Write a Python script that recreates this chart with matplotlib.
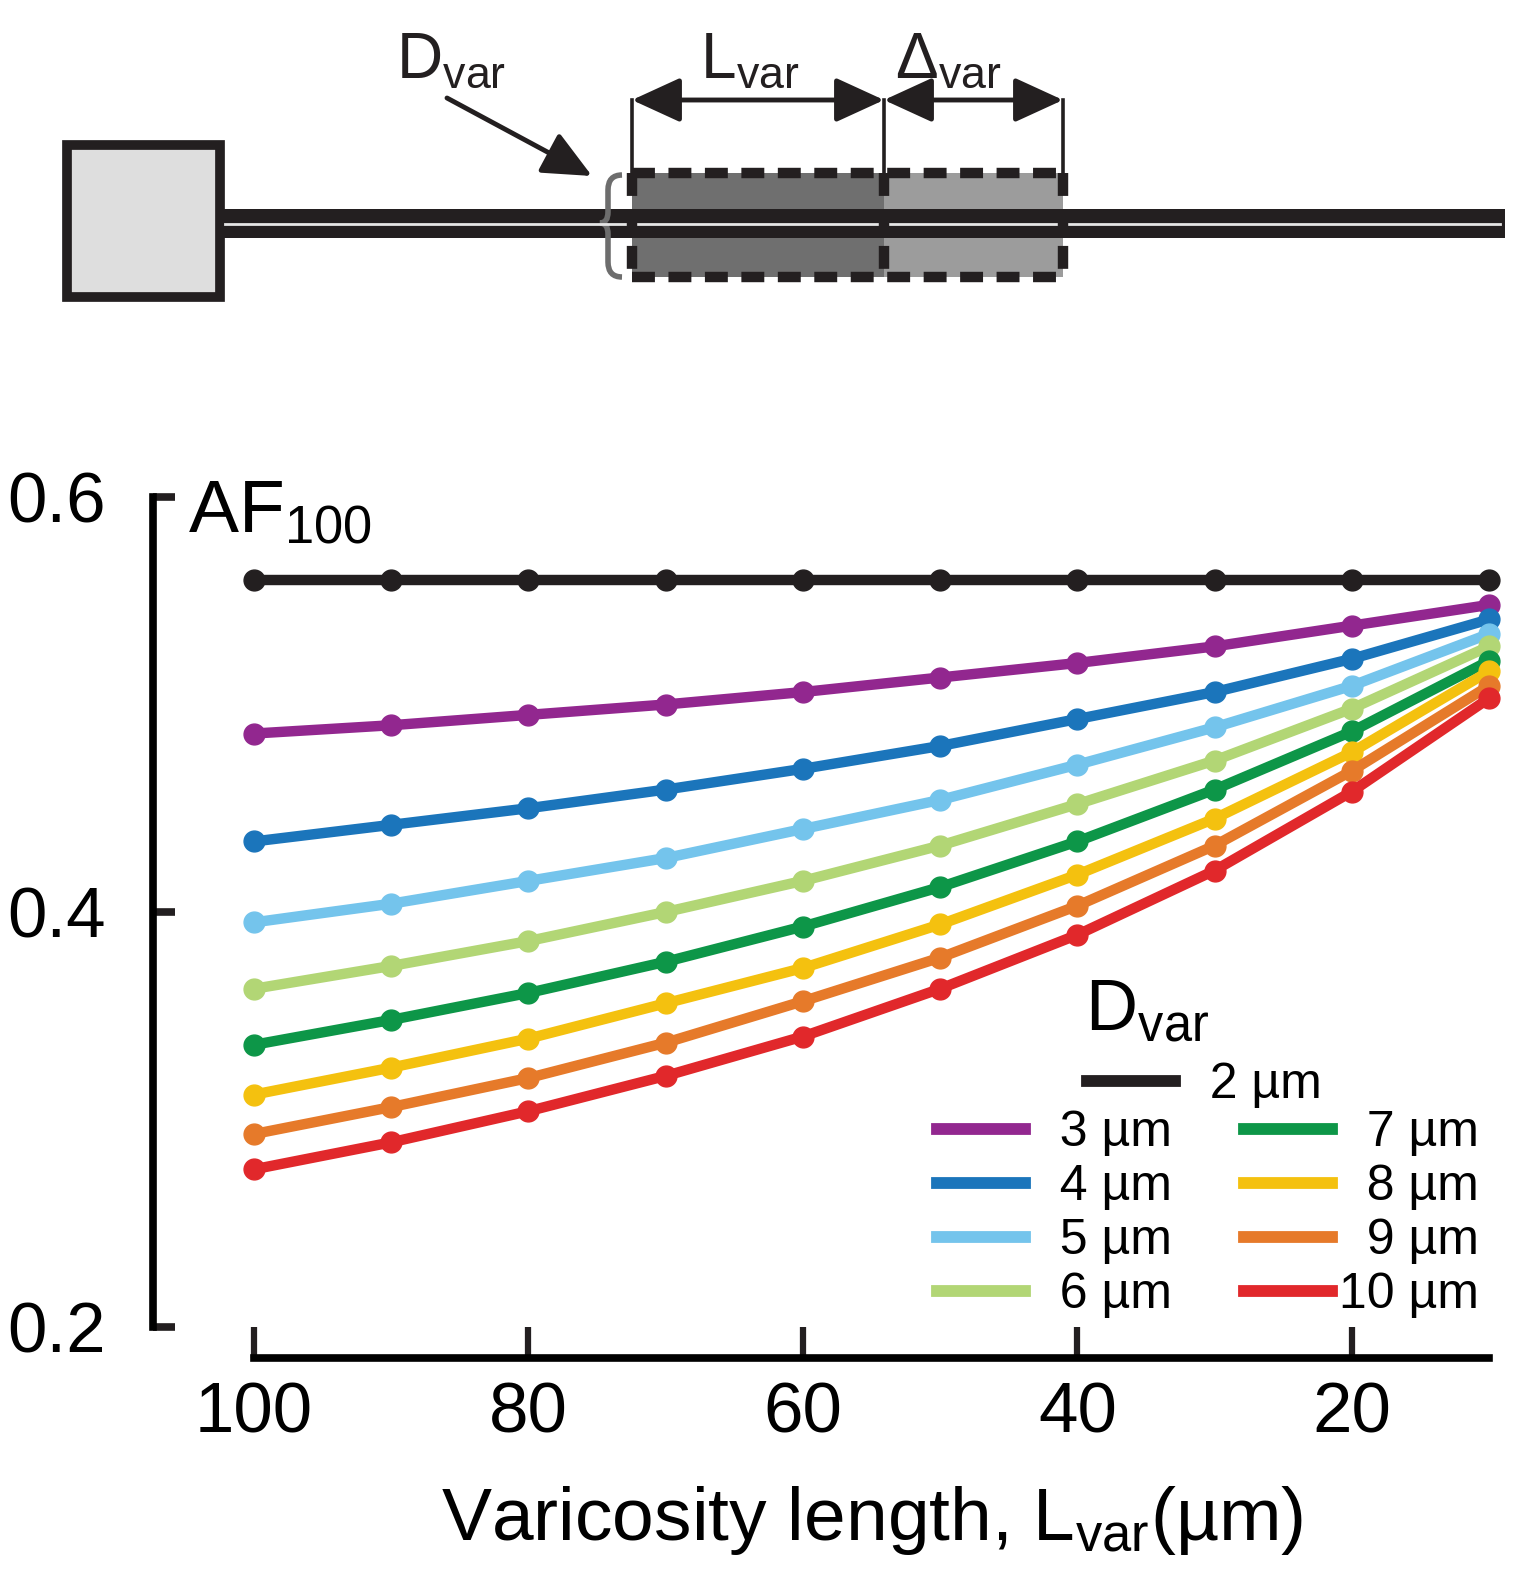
import matplotlib
matplotlib.use('Agg')
import matplotlib.pyplot as plt
from matplotlib.lines import Line2D
from matplotlib.patches import Rectangle, PathPatch
from matplotlib.path import Path

plt.rcParams['font.family'] = ['Liberation Sans', 'DejaVu Sans']
plt.rcParams['mathtext.default'] = 'regular'

W, H = 1528, 1583

# varicosity length (um) and AF100 per varicosity diameter
lengths = [100, 90, 80, 70, 60, 50, 40, 30, 20, 10]
af_d2 = [0.560, 0.560, 0.560, 0.560, 0.560, 0.560, 0.560, 0.560, 0.560, 0.560]
af_d3 = [0.486, 0.490, 0.495, 0.500, 0.506, 0.513, 0.520, 0.528, 0.538, 0.548]
af_d4 = [0.434, 0.442, 0.450, 0.459, 0.469, 0.480, 0.493, 0.506, 0.522, 0.541]
af_d5 = [0.395, 0.404, 0.415, 0.426, 0.440, 0.454, 0.471, 0.489, 0.509, 0.534]
af_d6 = [0.363, 0.374, 0.386, 0.400, 0.415, 0.432, 0.452, 0.473, 0.498, 0.528]
af_d7 = [0.336, 0.348, 0.361, 0.376, 0.393, 0.412, 0.434, 0.459, 0.487, 0.521]
af_d8 = [0.312, 0.325, 0.339, 0.356, 0.373, 0.394, 0.418, 0.445, 0.477, 0.516]
af_d9 = [0.293, 0.306, 0.320, 0.337, 0.357, 0.378, 0.403, 0.432, 0.468, 0.509]
af_d10 = [0.276, 0.289, 0.304, 0.321, 0.340, 0.363, 0.389, 0.420, 0.458, 0.503]

diam_labels = ['2 µm', '3 µm', '4 µm', '5 µm', '6 µm', '7 µm', '8 µm', '9 µm', '10 µm']
colors = ['#231f20', '#92278f', '#1b75bb', '#74c4ec', '#b2d675',
          '#0d9648', '#f4c10f', '#e67a2a', '#e1282b']
series = [af_d2, af_d3, af_d4, af_d5, af_d6, af_d7, af_d8, af_d9, af_d10]

fig = plt.figure(figsize=(W / 100, H / 100), dpi=100)

# ---- schematic (pixel coordinates) ----
dg = fig.add_axes([0, 1 - 320 / H, 1, 320 / H])
dg.set_xlim(0, W)
dg.set_ylim(320, 0)
dg.axis('off')
k = '#231f20'

dg.add_patch(Rectangle((67, 145), 153, 152, fc='#dedede', ec=k, lw=7))
dg.add_patch(Rectangle((632, 173), 252, 104, fc='#6f6f6f', ec='none'))
dg.add_patch(Rectangle((884, 173), 179, 104, fc='#9c9c9c', ec='none'))
dg.add_patch(Rectangle((220, 209), 1285, 29, fc=k, ec='none'))
dg.plot([225, 1500], [223.5, 223.5], color='#e6e6e6', lw=2)

for x0, x1, y0, y1 in [(632, 1063, 173, 173), (632, 1063, 277, 277),
                       (632, 632, 173, 277), (884, 884, 173, 277),
                       (1063, 1063, 173, 277)]:
    dg.plot([x0, x1], [y0, y1], color=k, lw=7.5, dashes=[2.2, 1.3])

for xv in [632, 884, 1063]:
    dg.plot([xv, xv], [100, 173], color=k, lw=2.6)

aprops = dict(arrowstyle='<|-|>,head_length=1.2,head_width=0.55', color=k,
              lw=3.5, shrinkA=0, shrinkB=0, mutation_scale=25)
dg.annotate('', xy=(632, 100), xytext=(884, 100), arrowprops=aprops)
dg.annotate('', xy=(884, 100), xytext=(1063, 100), arrowprops=aprops)
dg.annotate('', xy=(592, 176), xytext=(447, 98),
            arrowprops=dict(arrowstyle='-|>,head_length=1.2,head_width=0.55',
                            color=k, lw=3.5, shrinkA=0, shrinkB=0,
                            mutation_scale=25))

brace = Path([(622, 175), (608, 175), (608, 190), (608, 212), (608, 223),
              (600, 223), (608, 223), (608, 234), (608, 262), (608, 277),
              (622, 277)],
             [Path.MOVETO, Path.CURVE3, Path.CURVE3, Path.LINETO, Path.CURVE3,
              Path.CURVE3, Path.CURVE3, Path.CURVE3, Path.LINETO, Path.CURVE3,
              Path.CURVE3])
dg.add_patch(PathPatch(brace, fc='none', ec='#6d6d6d', lw=4))

dg.text(396, 78, r'D$_{var}$', fontsize=46, va='baseline', color=k)
dg.text(700, 78, r'L$_{var}$', fontsize=46, va='baseline', color=k)
dg.text(895, 78, r'Δ$_{var}$', fontsize=46, va='baseline', color=k)

# ---- main chart ----
ax = fig.add_axes([254 / W, (H - 1327) / H, (1489 - 254) / W, (1327 - 497) / H])
for vals, c in zip(series, colors):
    ax.plot(lengths, vals, color=c, lw=7.5, marker='o', ms=15, clip_on=False)

ax.set_xlim(100, 10)
ax.set_ylim(0.2, 0.6)
ax.spines['top'].set_visible(False)
ax.spines['right'].set_visible(False)
ax.spines['left'].set_position(('outward', 73))
ax.spines['bottom'].set_position(('outward', 22))
ax.spines['left'].set_linewidth(5.5)
ax.spines['bottom'].set_linewidth(5.5)
ax.set_yticks([0.2, 0.4, 0.6])
ax.set_yticklabels(['0.2', '0.4', '0.6'])
ax.set_xticks([100, 80, 60, 40, 20])
ax.tick_params(axis='y', direction='in', length=16, width=5.5, pad=34,
               labelsize=51, color=k)
ax.tick_params(axis='x', direction='in', length=22, width=4.5, pad=17,
               labelsize=51, color=k)

fig.text(188 / W, 1 - 532 / H, r'AF$_{100}$', fontsize=54, va='baseline')
fig.text(872 / W, 1 - 1540 / H, r'Varicosity length, L$_{var}$(µm)',
         ha='center', va='baseline', fontsize=54)
fig.text(1085 / W, 1 - 1030 / H, r'D$_{var}$', fontsize=52, va='baseline')

handles = [Line2D([], [], color=c, lw=8.5) for c in colors]
labels = [('  ' + s) if len(s) < 5 else s for s in diam_labels]

leg1 = ax.legend(handles[:1], labels[:1], loc='upper left',
                 bbox_to_anchor=(1087 / W, 1 - 1062 / H),
                 bbox_transform=fig.transFigure, frameon=False, fontsize=36,
                 handlelength=1.75, handletextpad=0.15, borderpad=0,
                 borderaxespad=0)
ax.add_artist(leg1)
ax.legend(handles[1:], labels[1:], ncol=2, loc='upper left',
          bbox_to_anchor=(937 / W, 1 - 1110 / H),
          bbox_transform=fig.transFigure, frameon=False, fontsize=36,
          handlelength=1.75, handletextpad=0.15, borderpad=0, borderaxespad=0,
          columnspacing=1.45, labelspacing=0.16)

fig.savefig('out.png', dpi=100)
